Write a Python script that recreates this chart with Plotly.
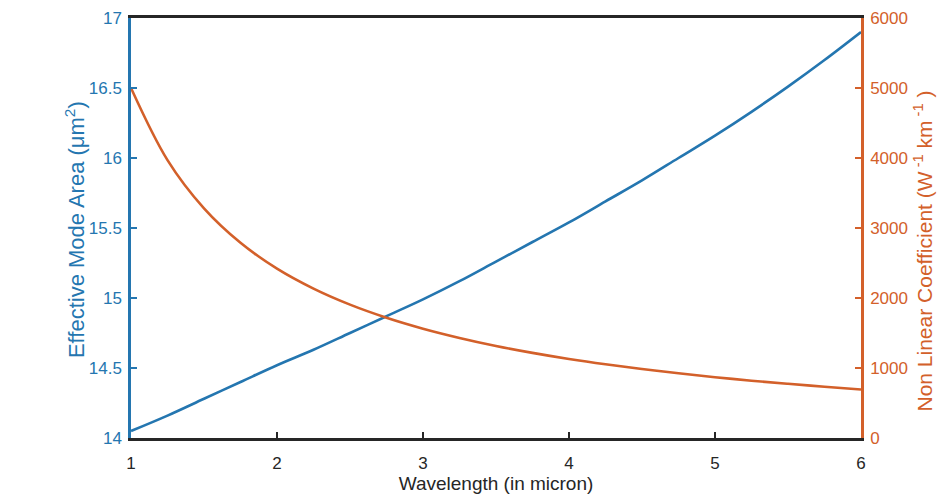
import plotly.graph_objects as go

wavelength = [1.0, 1.25, 1.5, 1.75, 2.0, 2.25, 2.5, 2.75, 3.0, 3.25, 3.5,
              3.75, 4.0, 4.25, 4.5, 4.75, 5.0, 5.25, 5.5, 5.75, 6.0]
mode_area = [14.05, 14.16, 14.28, 14.40, 14.52, 14.63, 14.75, 14.87, 14.99, 15.12, 15.26,
             15.40, 15.54, 15.69, 15.84, 16.00, 16.16, 16.33, 16.51, 16.70, 16.90]
nonlinear_coeff = [5000, 3969, 3280, 2788, 2419, 2134, 1905, 1718, 1562, 1430, 1315,
                   1216, 1129, 1053, 986, 924, 869, 819, 774, 732, 693]

x_ticks = [1, 2, 3, 4, 5, 6]
left_ticks = [14, 14.5, 15, 15.5, 16, 16.5, 17]
right_ticks = [0, 1000, 2000, 3000, 4000, 5000, 6000]

x_title = "Wavelength (in micron)"
left_title = "Effective Mode Area (μm<sup>2</sup>)"
right_title = "Non Linear Coefficient (W<sup> -1</sup> km<sup> -1</sup> )"

BLUE = "#2476b0"
ORANGE = "#d3602a"
DARK = "#262626"
FONT = "Liberation Sans, Arial, sans-serif"

fig = go.Figure()
fig.add_trace(go.Scatter(x=wavelength, y=mode_area, mode="lines",
                         line=dict(color=BLUE, width=2.6, shape="spline"),
                         yaxis="y", showlegend=False))
fig.add_trace(go.Scatter(x=wavelength, y=nonlinear_coeff, mode="lines",
                         line=dict(color=ORANGE, width=2.6, shape="spline"),
                         yaxis="y2", showlegend=False))

fig.update_layout(
    width=939, height=497,
    margin=dict(l=131, r=78, t=18, b=59, autoexpand=False),
    paper_bgcolor="white", plot_bgcolor="white",
    font=dict(family=FONT, size=17),
    xaxis=dict(range=[1, 6], tickvals=x_ticks, ticks="inside", ticklen=6,
               tickwidth=1.5, tickcolor=DARK, showline=True,
               linecolor=DARK, linewidth=2.5, mirror=True,
               showgrid=False, zeroline=False, ticklabelstandoff=8,
               automargin=False,
               tickfont=dict(color=DARK, size=17),
               title=dict(text=x_title, standoff=0,
                          font=dict(color=DARK, size=19))),
    yaxis=dict(range=[14, 17], tickvals=left_ticks,
               ticktext=["14", "14.5", "15", "15.5", "16", "16.5", "17"],
               ticks="inside", ticklen=6, tickwidth=1.5, tickcolor=BLUE,
               showline=True, linecolor=BLUE, linewidth=2.5,
               showgrid=False, zeroline=False, ticklabelstandoff=3,
               automargin=False,
               tickfont=dict(color=BLUE, size=17)),
    yaxis2=dict(range=[0, 6000], tickvals=right_ticks, overlaying="y", side="right",
                ticks="inside", ticklen=6, tickwidth=1.5, tickcolor=ORANGE,
                showline=True, linecolor=ORANGE, linewidth=2.5,
                showgrid=False, zeroline=False, ticklabelstandoff=3,
                automargin=False,
                tickfont=dict(color=ORANGE, size=17)),
    annotations=[
        dict(text=left_title, textangle=-90, xref="paper", yref="paper",
             x=-0.0767, y=0.495, xanchor="center", yanchor="middle",
             showarrow=False, font=dict(color=BLUE, size=22, family=FONT)),
        dict(text=right_title, textangle=-90, xref="paper", yref="paper",
             x=1.0855, y=0.445, xanchor="center", yanchor="middle",
             showarrow=False, font=dict(color=ORANGE, size=21, family=FONT)),
    ],
)

fig.write_html("out.html")
